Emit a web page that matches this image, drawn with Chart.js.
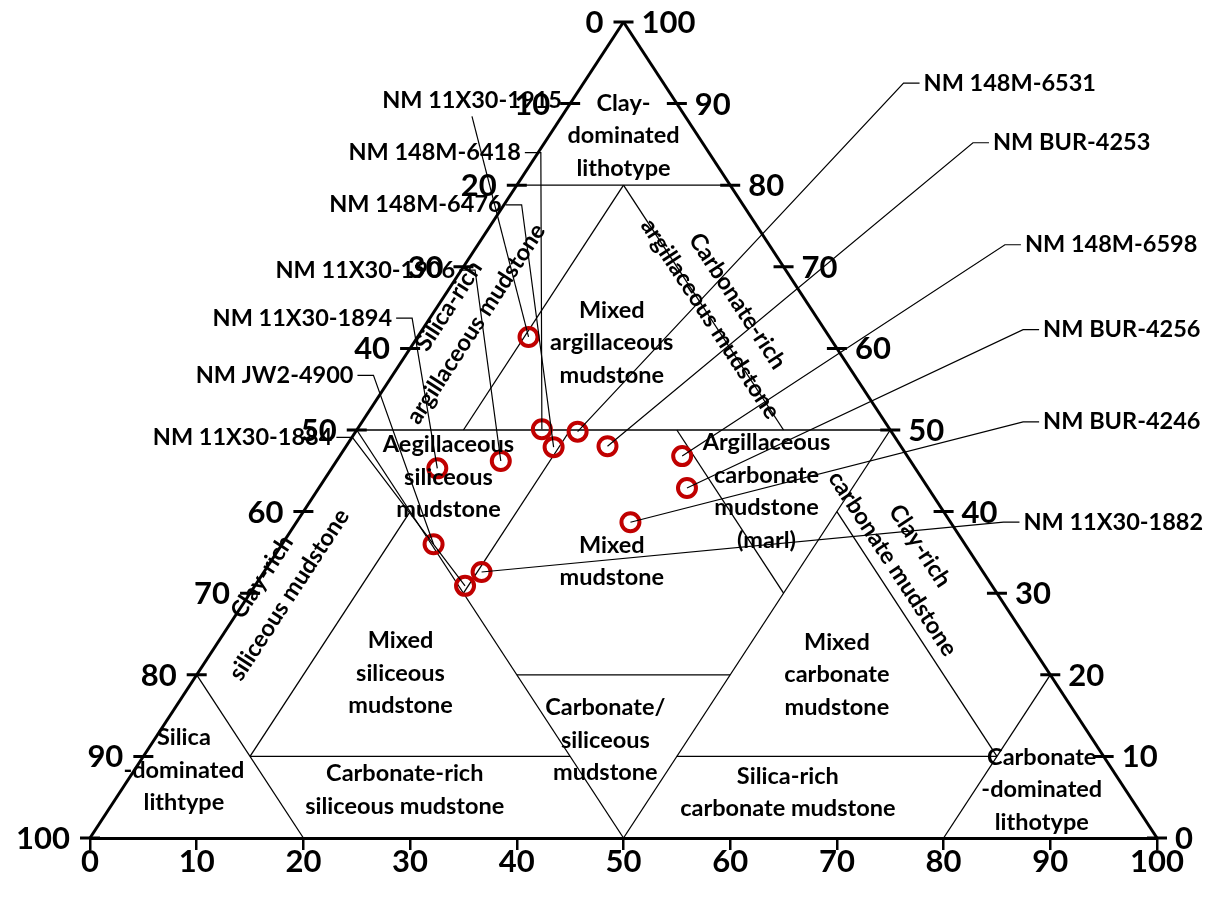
<!DOCTYPE html>
<html>
<head>
<meta charset="utf-8">
<script src="https://cdn.jsdelivr.net/npm/chart.js@4"></script>
<style>
  html, body { margin: 0; padding: 0; background: #ffffff; }
  canvas { display: block; }
</style>
</head>
<body>
<canvas id="chart" width="1206" height="905"></canvas>
<script>
// Mudstone samples: clay, carbonate and silica fractions (%)
const samples = ['NM 11X30-1915', 'NM 148M-6418', 'NM 148M-6476', 'NM 11X30-1906', 'NM 11X30-1894',
  'NM JW2-4900', 'NM 11X30-1884', 'NM 148M-6531', 'NM BUR-4253', 'NM 148M-6598', 'NM BUR-4256',
  'NM BUR-4246', 'NM 11X30-1882'];
const clay      = [61.4, 50.1, 47.9, 46.2, 45.3, 36.0, 30.9, 49.8, 48.0, 46.8, 42.9, 38.7, 32.6];
const carbonate = [10.4, 17.3, 19.5, 15.4,  9.9, 14.2, 19.7, 20.8, 24.5, 32.1, 34.5, 31.3, 20.4];
const silica    = [28.2, 32.6, 32.6, 38.4, 44.8, 49.8, 49.4, 29.4, 27.5, 21.1, 22.6, 30.0, 47.0];

// Where each sample name sits (plot units: x across, y = clay level)
const labelX = [35.8, 32.3, 30.5, 25.8, 19.9, 17.3, 14.3, 86.2, 92.0, 95.7, 96.7, 96.7, 95.9];
const labelY = [90.4, 84.0, 77.6, 69.6, 63.7, 56.7, 49.1, 92.5, 85.2, 72.7, 62.3, 51.0, 38.7];

// Tick labels on the two sloping sides, one per clay level
const sideLevels      = [0, 10, 20, 30, 40, 50, 60, 70, 80, 90, 100];
const leftTickLabels  = ['100', '90', '80', '70', '60', '50', '40', '30', '20', '10', '0'];
const rightTickLabels = ['0', '10', '20', '30', '40', '50', '60', '70', '80', '90', '100'];

// Lithotype boundaries, each as two [clay, carbonate] end members
const boundaries = [
  [[80, 0], [80, 20]],
  [[50, 0], [50, 50]],
  [[80, 10], [50, 10]],
  [[80, 10], [50, 40]],
  [[50, 0], [0, 50]],
  [[50, 50], [0, 50]],
  [[50, 20], [30, 20]],
  [[50, 30], [30, 50]],
  [[40, 10], [10, 10]],
  [[40, 50], [10, 80]],
  [[10, 10], [10, 40]],
  [[10, 50], [10, 80]],
  [[20, 30], [20, 50]],
  [[20, 0], [0, 20]],
  [[20, 80], [0, 80]]
];
// Outer triangle sides
const outline = [
  [[0, 0], [100, 0]],
  [[100, 0], [0, 100]]
];

// Lithotype names and their placement (plot units); tilt follows the left (-1) or right (+1) side
const regionText = [
  ['Clay-', 'dominated', 'lithotype'],
  ['Mixed', 'argillaceous', 'mudstone'],
  ['Aegillaceous', 'siliceous', 'mudstone'],
  ['Argillaceous', 'carbonate', 'mudstone', '(marl)'],
  ['Mixed', 'mudstone'],
  ['Mixed', 'siliceous', 'mudstone'],
  ['Mixed', 'carbonate', 'mudstone'],
  ['Carbonate/', 'siliceous', 'mudstone'],
  ['Carbonate-rich', 'siliceous mudstone'],
  ['Silica-rich', 'carbonate mudstone'],
  ['Silica', '-dominated', 'lithtype'],
  ['Carbonate', '-dominated', 'lithotype'],
  ['Silica-rich', 'argillaceous mudstone'],
  ['Clay-rich', 'siliceous mudstone'],
  ['Carbonate-rich', 'argillaceous mudstone'],
  ['Clay-rich', 'carbonate mudstone']
];
const regionX    = [50.0, 48.9, 33.6, 63.4, 48.9, 29.1, 70.0, 48.3, 29.5, 65.4, 8.8, 89.2, 34.9, 17.4, 59.4, 76.5];
const regionY    = [86.1, 60.7, 44.2, 42.5, 33.9, 20.2, 20.0, 12.0, 5.9, 5.6, 8.3, 5.9, 64.1, 30.9, 64.7, 34.7];
const regionTilt = [0, 0, 0, 0, 0, 0, 0, 0, 0, 0, 0, 0, -1, -1, 1, 1];

// Ternary composition -> plot position (apex = 100 % clay)
const toXY = (cl, cb) => ({ x: cb + cl / 2, y: cl });

const FONT = 'Lato, "Open Sans", sans-serif';
const BOLD_LABEL = 'bold 23.5px ' + FONT;
const BOLD_TICK = 'bold 31px ' + FONT;

const lineSets = [];
boundaries.forEach(seg => lineSets.push({
  data: seg.map(p => toXY(p[0], p[1])),
  showLine: true, borderColor: '#000000', borderWidth: 1.3,
  pointRadius: 0, clip: false, order: 2
}));
outline.forEach(seg => lineSets.push({
  data: seg.map(p => toXY(p[0], p[1])),
  showLine: true, borderColor: '#000000', borderWidth: 3,
  pointRadius: 0, clip: false, order: 2
}));

const sampleSet = {
  label: 'Samples',
  data: samples.map((s, i) => toXY(clay[i], carbonate[i])),
  showLine: false,
  pointStyle: 'circle',
  pointRadius: 9,
  pointBorderWidth: 4,
  pointBorderColor: '#C00000',
  pointBackgroundColor: 'rgba(0,0,0,0)',
  clip: false,
  order: 1
};

const ternaryDecor = {
  id: 'ternaryDecor',
  afterDatasetsDraw(chart) {
    const { ctx } = chart;
    const xs = chart.scales.x, ys = chart.scales.y;
    const pix = (cl, cb) => {
      const p = toXY(cl, cb);
      return [xs.getPixelForValue(p.x), ys.getPixelForValue(p.y)];
    };
    const [ax, ay] = pix(100, 0);
    const [bx, by] = pix(0, 0);
    const slope = Math.atan2(ay - by, ax - bx); // left side direction

    ctx.save();
    ctx.fillStyle = '#000000';
    ctx.strokeStyle = '#000000';

    // lithotype names
    ctx.font = BOLD_LABEL;
    ctx.textAlign = 'center';
    ctx.textBaseline = 'middle';
    const lh = 32.5;
    regionText.forEach((lines, i) => {
      const cx = xs.getPixelForValue(regionX[i]);
      const cy = ys.getPixelForValue(regionY[i]);
      ctx.save();
      ctx.translate(cx, cy);
      if (regionTilt[i] < 0) ctx.rotate(slope);
      if (regionTilt[i] > 0) ctx.rotate(-slope);
      lines.forEach((t, k) => ctx.fillText(t, 0, (k - (lines.length - 1) / 2) * lh));
      ctx.restore();
    });

    // ticks and labels along the two sloping sides
    ctx.font = BOLD_TICK;
    ctx.lineWidth = 3;
    sideLevels.forEach((v, i) => {
      const [lx, ly] = pix(v, 0);
      const [rx, ry] = pix(v, 100 - v);
      ctx.beginPath();
      ctx.moveTo(lx - 10, ly); ctx.lineTo(lx + 10, ly);
      ctx.moveTo(rx - 10, ry); ctx.lineTo(rx + 10, ry);
      ctx.stroke();
      ctx.textAlign = 'right';
      ctx.fillText(leftTickLabels[i], lx - 20, ly + 1);
      ctx.textAlign = 'left';
      ctx.fillText(rightTickLabels[i], rx + 18, ry + 1);
    });

    // sample names with leader lines
    ctx.font = BOLD_LABEL;
    ctx.textAlign = 'center';
    ctx.lineWidth = 1.2;
    samples.forEach((name, i) => {
      const cx = xs.getPixelForValue(labelX[i]);
      const cy = ys.getPixelForValue(labelY[i]);
      ctx.fillText(name, cx, cy);
      const [px, py] = pix(clay[i], carbonate[i]);
      const hw = ctx.measureText(name).width / 2 + 4;
      ctx.beginPath();
      if (px > cx + hw) {
        ctx.moveTo(cx + hw, cy); ctx.lineTo(cx + hw + 16, cy); ctx.lineTo(px, py);
      } else if (px < cx - hw) {
        ctx.moveTo(cx - hw, cy); ctx.lineTo(cx - hw - 16, cy); ctx.lineTo(px, py);
      } else {
        ctx.moveTo(cx, cy + 16); ctx.lineTo(px, py);
      }
      ctx.stroke();
    });
    ctx.restore();
  }
};

new Chart(document.getElementById('chart'), {
  type: 'scatter',
  data: { datasets: [sampleSet, ...lineSets] },
  options: {
    responsive: false,
    animation: false,
    devicePixelRatio: 1,
    layout: { padding: { left: 90, right: 49, top: 22, bottom: 0 } },
    plugins: { legend: { display: false }, tooltip: { enabled: false } },
    scales: {
      x: {
        type: 'linear', min: 0, max: 100, position: 'bottom',
        ticks: { stepSize: 10, color: '#000000', padding: -4,
                 font: { family: FONT, weight: 'bold', size: 31, lineHeight: 1 } },
        grid: { drawOnChartArea: false, drawTicks: true, tickLength: 12, color: '#000000', lineWidth: 2.5 },
        border: { display: true, color: '#000000', width: 3 },
        afterFit: (scale) => { scale.height = 67; }
      },
      y: { type: 'linear', min: 0, max: 100, display: false }
    }
  },
  plugins: [ternaryDecor]
});
</script>
</body>
</html>
